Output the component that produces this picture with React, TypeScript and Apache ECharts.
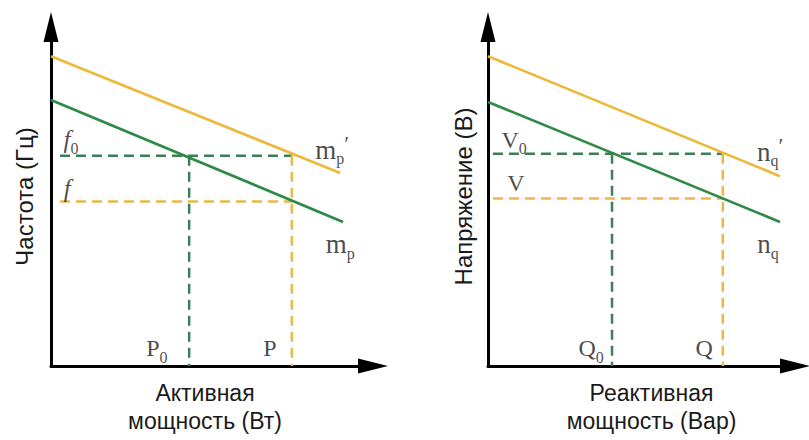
import React, { useEffect, useRef } from "react";
import * as echarts from "echarts";

// ---- Data (arbitrary units, axes 0..10) ----
// Left panel: frequency droop
const leftUpperLine = [[0, 9.14], [8.98, 5.69]]; // m_p'
const leftLowerLine = [[0, 7.85], [9.07, 4.25]]; // m_p
const P0 = 4.29;
const P = 7.48;
const F0 = 6.2;
const F = 4.85;
const leftDashStart = 0.28;

// Right panel: voltage droop
const rightUpperLine = [[0, 9.14], [9.51, 5.6]]; // n_q'
const rightLowerLine = [[0, 7.79], [9.51, 4.25]]; // n_q
const Q0 = 4.04;
const Q = 7.65;
const V0 = 6.26;
const V = 4.94;
const rightDashStart = 0.16;

// Annotation labels: [x, y, rich text]
const leftLabels: [number, number, string][] = [
  [0.62, 6.67, "{i|f}{s|0}"],
  [0.5, 5.23, "{i|f}"],
  [3.29, 0.52, "{u|P}{s|0}"],
  [6.8, 0.52, "{u|P}"],
  [8.73, 6.38, "{m|m}{s|p}{pr|′}"],
  [8.98, 3.59, "{m|m}{s|p}"],
];
const rightLabels: [number, number, string][] = [
  [0.85, 6.67, "{u|V}{s|0}"],
  [0.91, 5.4, "{u|V}"],
  [3.36, 0.52, "{u|Q}{s|0}"],
  [7.04, 0.52, "{u|Q}"],
  [9.19, 6.32, "{m|n}{s|q}{pr|′}"],
  [9.12, 3.59, "{m|n}{s|q}"],
];

const leftYName = "Частота (Гц)";
const leftXName = "Активная\nмощность (Вт)";
const rightYName = "Напряжение (В)";
const rightXName = "Реактивная\nмощность (Вар)";

const YELLOW = "#ebb93c";
const GREEN = "#2e8a46";
const DGREEN = "#3b7f57";
const DYELLOW = "#e9b84a";

const SERIF = "'Liberation Serif', 'DejaVu Serif', serif";
const SANS = "'Liberation Sans', Arial, sans-serif";
const INK = "#1a1a1a";

const rich = {
  i: { fontFamily: SERIF, fontStyle: "italic", fontSize: 25, lineHeight: 34, color: INK },
  u: { fontFamily: SERIF, fontSize: 24, lineHeight: 34, color: INK },
  m: { fontFamily: SERIF, fontSize: 27, lineHeight: 34, color: INK },
  s: { fontFamily: SERIF, fontSize: 16, lineHeight: 16, verticalAlign: "bottom", color: INK },
  pr: { fontFamily: SERIF, fontSize: 22, lineHeight: 22, verticalAlign: "top", color: INK },
};

function axisPair(gridIndex: number, yName: string, xName: string, xPad: number[], yGap: number) {
  const axisLine = {
    show: true,
    symbol: ["none", "triangle"],
    symbolSize: [15, 30],
    lineStyle: { color: "#000", width: 3 },
  };
  const x = {
    type: "value",
    gridIndex,
    min: 0,
    max: 10,
    axisLine,
    axisTick: { show: false },
    axisLabel: { show: false },
    splitLine: { show: false },
    name: xName,
    nameLocation: "middle",
    nameGap: 13,
    nameTextStyle: {
      fontFamily: SANS,
      fontSize: 23,
      lineHeight: 28,
      color: INK,
      verticalAlign: "top",
      padding: xPad,
    },
  };
  const y = {
    type: "value",
    gridIndex,
    min: 0,
    max: 10,
    axisLine,
    axisTick: { show: false },
    axisLabel: { show: false },
    splitLine: { show: false },
    name: yName,
    nameLocation: "middle",
    nameGap: yGap,
    nameTextStyle: { fontFamily: SANS, fontSize: 24, color: INK },
  };
  return { x, y };
}

function lineSeries(idx: number, data: number[][], color: string, dashed: boolean) {
  return {
    type: "line",
    xAxisIndex: idx,
    yAxisIndex: idx,
    data,
    symbol: "none",
    silent: true,
    lineStyle: dashed
      ? { color, width: 2.5, type: [10, 6] }
      : { color, width: 2.7 },
    z: dashed ? 2 : 3,
  };
}

function panelSeries(
  idx: number,
  upper: number[][],
  lower: number[][],
  a0: number,
  a: number,
  b0: number,
  b: number,
  start: number,
  labels: [number, number, string][]
) {
  return [
    lineSeries(idx, [[start, b0], [a, b0]], DGREEN, true),
    lineSeries(idx, [[start, b], [a, b]], DYELLOW, true),
    lineSeries(idx, [[a0, b0], [a0, 0]], DGREEN, true),
    lineSeries(idx, [[a, b0], [a, 0]], DYELLOW, true),
    lineSeries(idx, upper, YELLOW, false),
    lineSeries(idx, lower, GREEN, false),
    {
      type: "scatter",
      xAxisIndex: idx,
      yAxisIndex: idx,
      symbolSize: 1,
      itemStyle: { color: "rgba(0,0,0,0)" },
      silent: true,
      data: labels.map((l) => ({ value: [l[0], l[1]], name: l[2] })),
      label: {
        show: true,
        position: "inside",
        align: "center",
        verticalAlign: "middle",
        formatter: (p: any) => p.name,
        rich,
      },
      z: 5,
    },
  ];
}

export default function App() {
  const ref = useRef<HTMLDivElement>(null);
  useEffect(() => {
    if (!ref.current) return;
    const chart = echarts.init(ref.current, undefined, { renderer: "svg" });
    const L = axisPair(0, leftYName, leftXName, [0, 14, 0, 0], 15);
    const R = axisPair(1, rightYName, rightXName, [0, 0, 0, 20], 13);
    chart.setOption({
      animation: false,
      backgroundColor: "#ffffff",
      grid: [
        { left: 51, top: 27, width: 322, height: 348 },
        { left: 488, top: 27, width: 307, height: 348 },
      ],
      xAxis: [L.x, R.x],
      yAxis: [L.y, R.y],
      series: [
        ...panelSeries(0, leftUpperLine, leftLowerLine, P0, P, F0, F, leftDashStart, leftLabels),
        ...panelSeries(1, rightUpperLine, rightLowerLine, Q0, Q, V0, V, rightDashStart, rightLabels),
      ],
    });
    return () => chart.dispose();
  }, []);
  return (
    <div
      ref={ref}
      style={{ position: "fixed", left: 0, top: 0, width: 809, height: 440, background: "#fff" }}
    />
  );
}
